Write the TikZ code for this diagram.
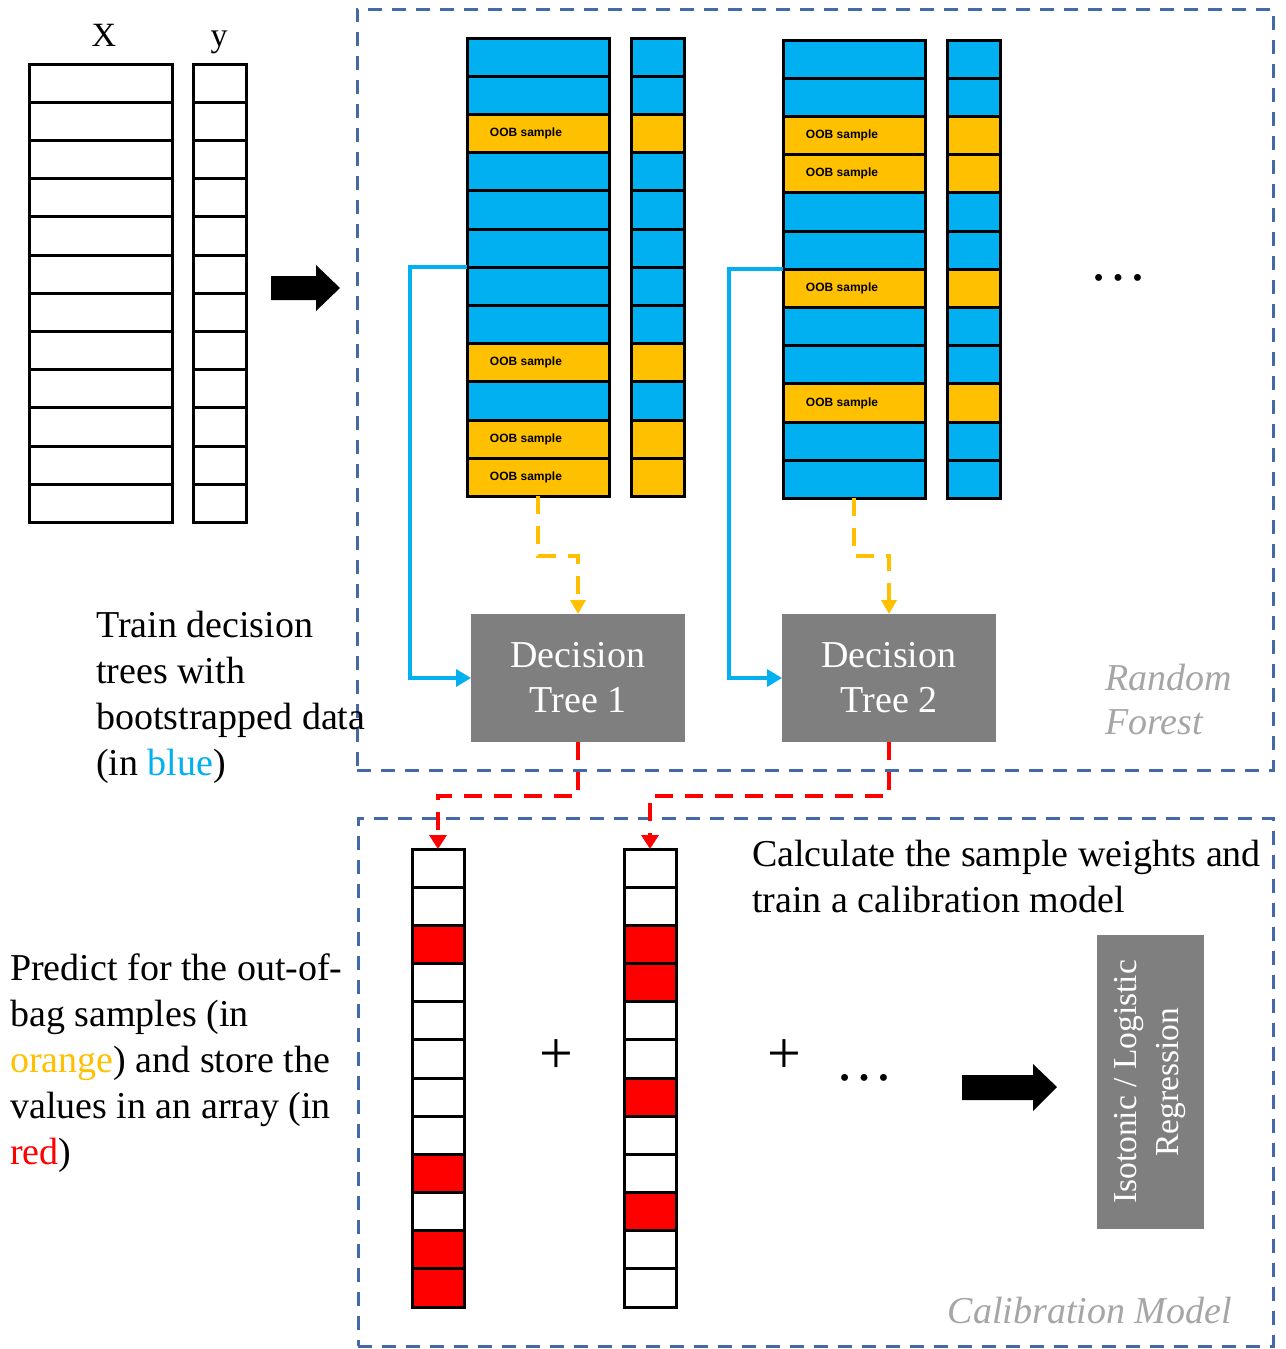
\documentclass[tikz,border=0pt]{standalone}
\usepackage{fontspec}
\setmainfont{Liberation Serif}
\newfontfamily\oobfont{Liberation Sans}
\usetikzlibrary{arrows.meta}
\definecolor{rfblue}{RGB}{0,176,240}
\definecolor{ooborange}{RGB}{255,192,0}
\definecolor{boxgray}{RGB}{127,127,127}
\definecolor{labelgray}{RGB}{166,166,166}
\definecolor{frameblue}{RGB}{68,104,168}
\definecolor{redc}{RGB}{255,0,0}
\newcommand\setfs[2]{\fontsize{#1}{#2}\selectfont}
\begin{document}
\begin{tikzpicture}[x=1pt,y=-1pt,
  cell/.style={draw=black, line width=3pt, inner sep=0pt, outer sep=0pt, anchor=north west, minimum height=38.2pt},
  wcell/.style={cell, fill=white},
  rcell/.style={cell, fill=redc},
  bcell/.style={cell, fill=rfblue},
  ocell/.style={cell, fill=ooborange},
  oobcell/.style={cell, fill=ooborange, label={[oobtext, xshift=-12pt]center:OOB sample}},
  oobtext/.style={font=\oobfont\bfseries\setfs{12}{14}, text=black, inner sep=0pt},
  frame/.style={draw=frameblue, line width=3pt, dash pattern=on 14pt off 10pt, anchor=north west, inner sep=0pt, outer sep=0pt},
  graybox/.style={fill=boxgray, text=white, align=center, inner sep=0pt, outer sep=0pt, font=\setfs{38}{45}},
  bconn/.style={draw=rfblue, line width=3.5pt, -{Triangle[length=15pt,width=17pt]}},
  oconn/.style={draw=ooborange, line width=4pt, dash pattern=on 18pt off 12pt, -{Triangle[length=14pt,width=15pt]}},
  rconn/.style={draw=redc, line width=4pt, dash pattern=on 18pt off 12pt, -{Triangle[length=14pt,width=17pt]}},
  bodytext/.style={anchor=north west, inner sep=0pt, align=left, font=\setfs{38}{46}},
  grouplabel/.style={text=labelgray, inner sep=0pt, align=left, font=\setfs{38}{44}\itshape},
]
\fill[white] (0,0) rectangle (1285,1349);
\useasboundingbox (0,0) rectangle (1285,1349);

% frames
\node[frame, minimum width=916pt, minimum height=761pt] (rf) at (357,9) {};
\node[frame, minimum width=915pt, minimum height=528pt] (cm) at (358,818) {};

% X and y tables
\node[anchor=base, inner sep=0pt, font=\setfs{34}{40}] (xlab) at (104,46) {X};
\node[anchor=base, inner sep=0pt, font=\setfs{34}{40}] (ylab) at (219,46) {y};
\foreach \i in {1,...,12} {
  \node[wcell, minimum width=143pt] (xr\i) at (29,{64+(\i-1)*38.2}) {};
  \node[wcell, minimum width=53pt] (yr\i) at (193,{64+(\i-1)*38.2}) {};
}

% block arrow 1
\fill[black] (271,276) -- (316,276) -- (316,265) -- (340,288) -- (316,311) -- (316,300) -- (271,300) -- cycle;

% tree 1 data
\foreach \s [count=\i] in {bcell,bcell,oobcell,bcell,bcell,bcell,bcell,bcell,oobcell,bcell,oobcell,oobcell}
  \node[\s, minimum width=142pt] (taR\i) at (467,{38+(\i-1)*38.2}) {};
\foreach \s [count=\i] in {bcell,bcell,ocell,bcell,bcell,bcell,bcell,bcell,ocell,bcell,ocell,ocell}
  \node[\s, minimum width=53pt] (taS\i) at (631,{38+(\i-1)*38.2}) {};
% tree 2 data
\foreach \s [count=\i] in {bcell,bcell,oobcell,oobcell,bcell,bcell,oobcell,bcell,bcell,oobcell,bcell,bcell}
  \node[\s, minimum width=142pt] (tbR\i) at (783,{40+(\i-1)*38.2}) {};
\foreach \s [count=\i] in {bcell,bcell,ocell,ocell,bcell,bcell,ocell,bcell,bcell,ocell,bcell,bcell}
  \node[\s, minimum width=53pt] (tbS\i) at (947,{40+(\i-1)*38.2}) {};

\node[inner sep=0pt, font=\setfs{58}{58}] (rfdots) at (1118,278) {…};

% decision trees
\node[graybox, minimum width=214pt, minimum height=128pt] (dt1) at (578,678) {Decision\\Tree 1};
\node[graybox, minimum width=214pt, minimum height=128pt] (dt2) at (889,678) {Decision\\Tree 2};

\node[grouplabel, anchor=north west] (rflab) at (1105,664) {Random\\Forest};

% connectors
\draw[bconn] (taR6.south west) -- ++(-57,0) |- (dt1.west);
\draw[bconn] (tbR6.south west) -- ++(-54,0) |- (dt2.west);
\draw[oconn] (taR12.south) -- ++(0,60) -| (dt1.north);
\draw[oconn] (tbR12.south) -- ++(0,58) -| (dt2.north);

% red arrays
\foreach \s [count=\i] in {wcell,wcell,rcell,wcell,wcell,wcell,wcell,wcell,rcell,wcell,rcell,rcell}
  \node[\s, minimum width=52pt] (aa\i) at (412,{849+(\i-1)*38.17}) {};
\foreach \s [count=\i] in {wcell,wcell,rcell,rcell,wcell,wcell,rcell,wcell,wcell,rcell,wcell,wcell}
  \node[\s, minimum width=52pt] (ab\i) at (624,{849+(\i-1)*38.17}) {};

\draw[rconn] (dt1.south) -- ++(0,54) -| (aa1.north);
\draw[rconn] (dt2.south) -- ++(0,54) -| (ab1.north);

\node[inner sep=0pt, font=\setfs{60}{60}] (plus1) at (556,1057) {+};
\node[inner sep=0pt, font=\setfs{60}{60}] (plus2) at (784,1057) {+};
\node[inner sep=0pt, font=\setfs{58}{58}] (cmdots) at (864,1078) {…};

% block arrow 2
\fill[black] (962,1075) -- (1033,1075) -- (1033,1064) -- (1057,1087) -- (1033,1111) -- (1033,1100) -- (962,1100) -- cycle;

\node[graybox, rotate=90, minimum width=294pt, minimum height=107pt, font=\setfs{33.5}{42}] (iso) at (1150.5,1082) {Isotonic / Logistic\\Regression};

\node[grouplabel, anchor=base east] (cmlab) at (1232,1323) {Calibration Model};

% texts
\node[bodytext] (txt1) at (96,611) {Train decision\\trees with\\bootstrapped data\\(in \textcolor{rfblue}{blue})};
\node[bodytext] (txt2) at (10,954) {Predict for the out-of-\\bag samples (in\\\textcolor{ooborange}{orange}) and store the\\values in an array (in\\\textcolor{redc}{red})};
\node[bodytext] (txt3) at (752,840) {Calculate the sample weights and\\train a calibration model};
\end{tikzpicture}
\end{document}
